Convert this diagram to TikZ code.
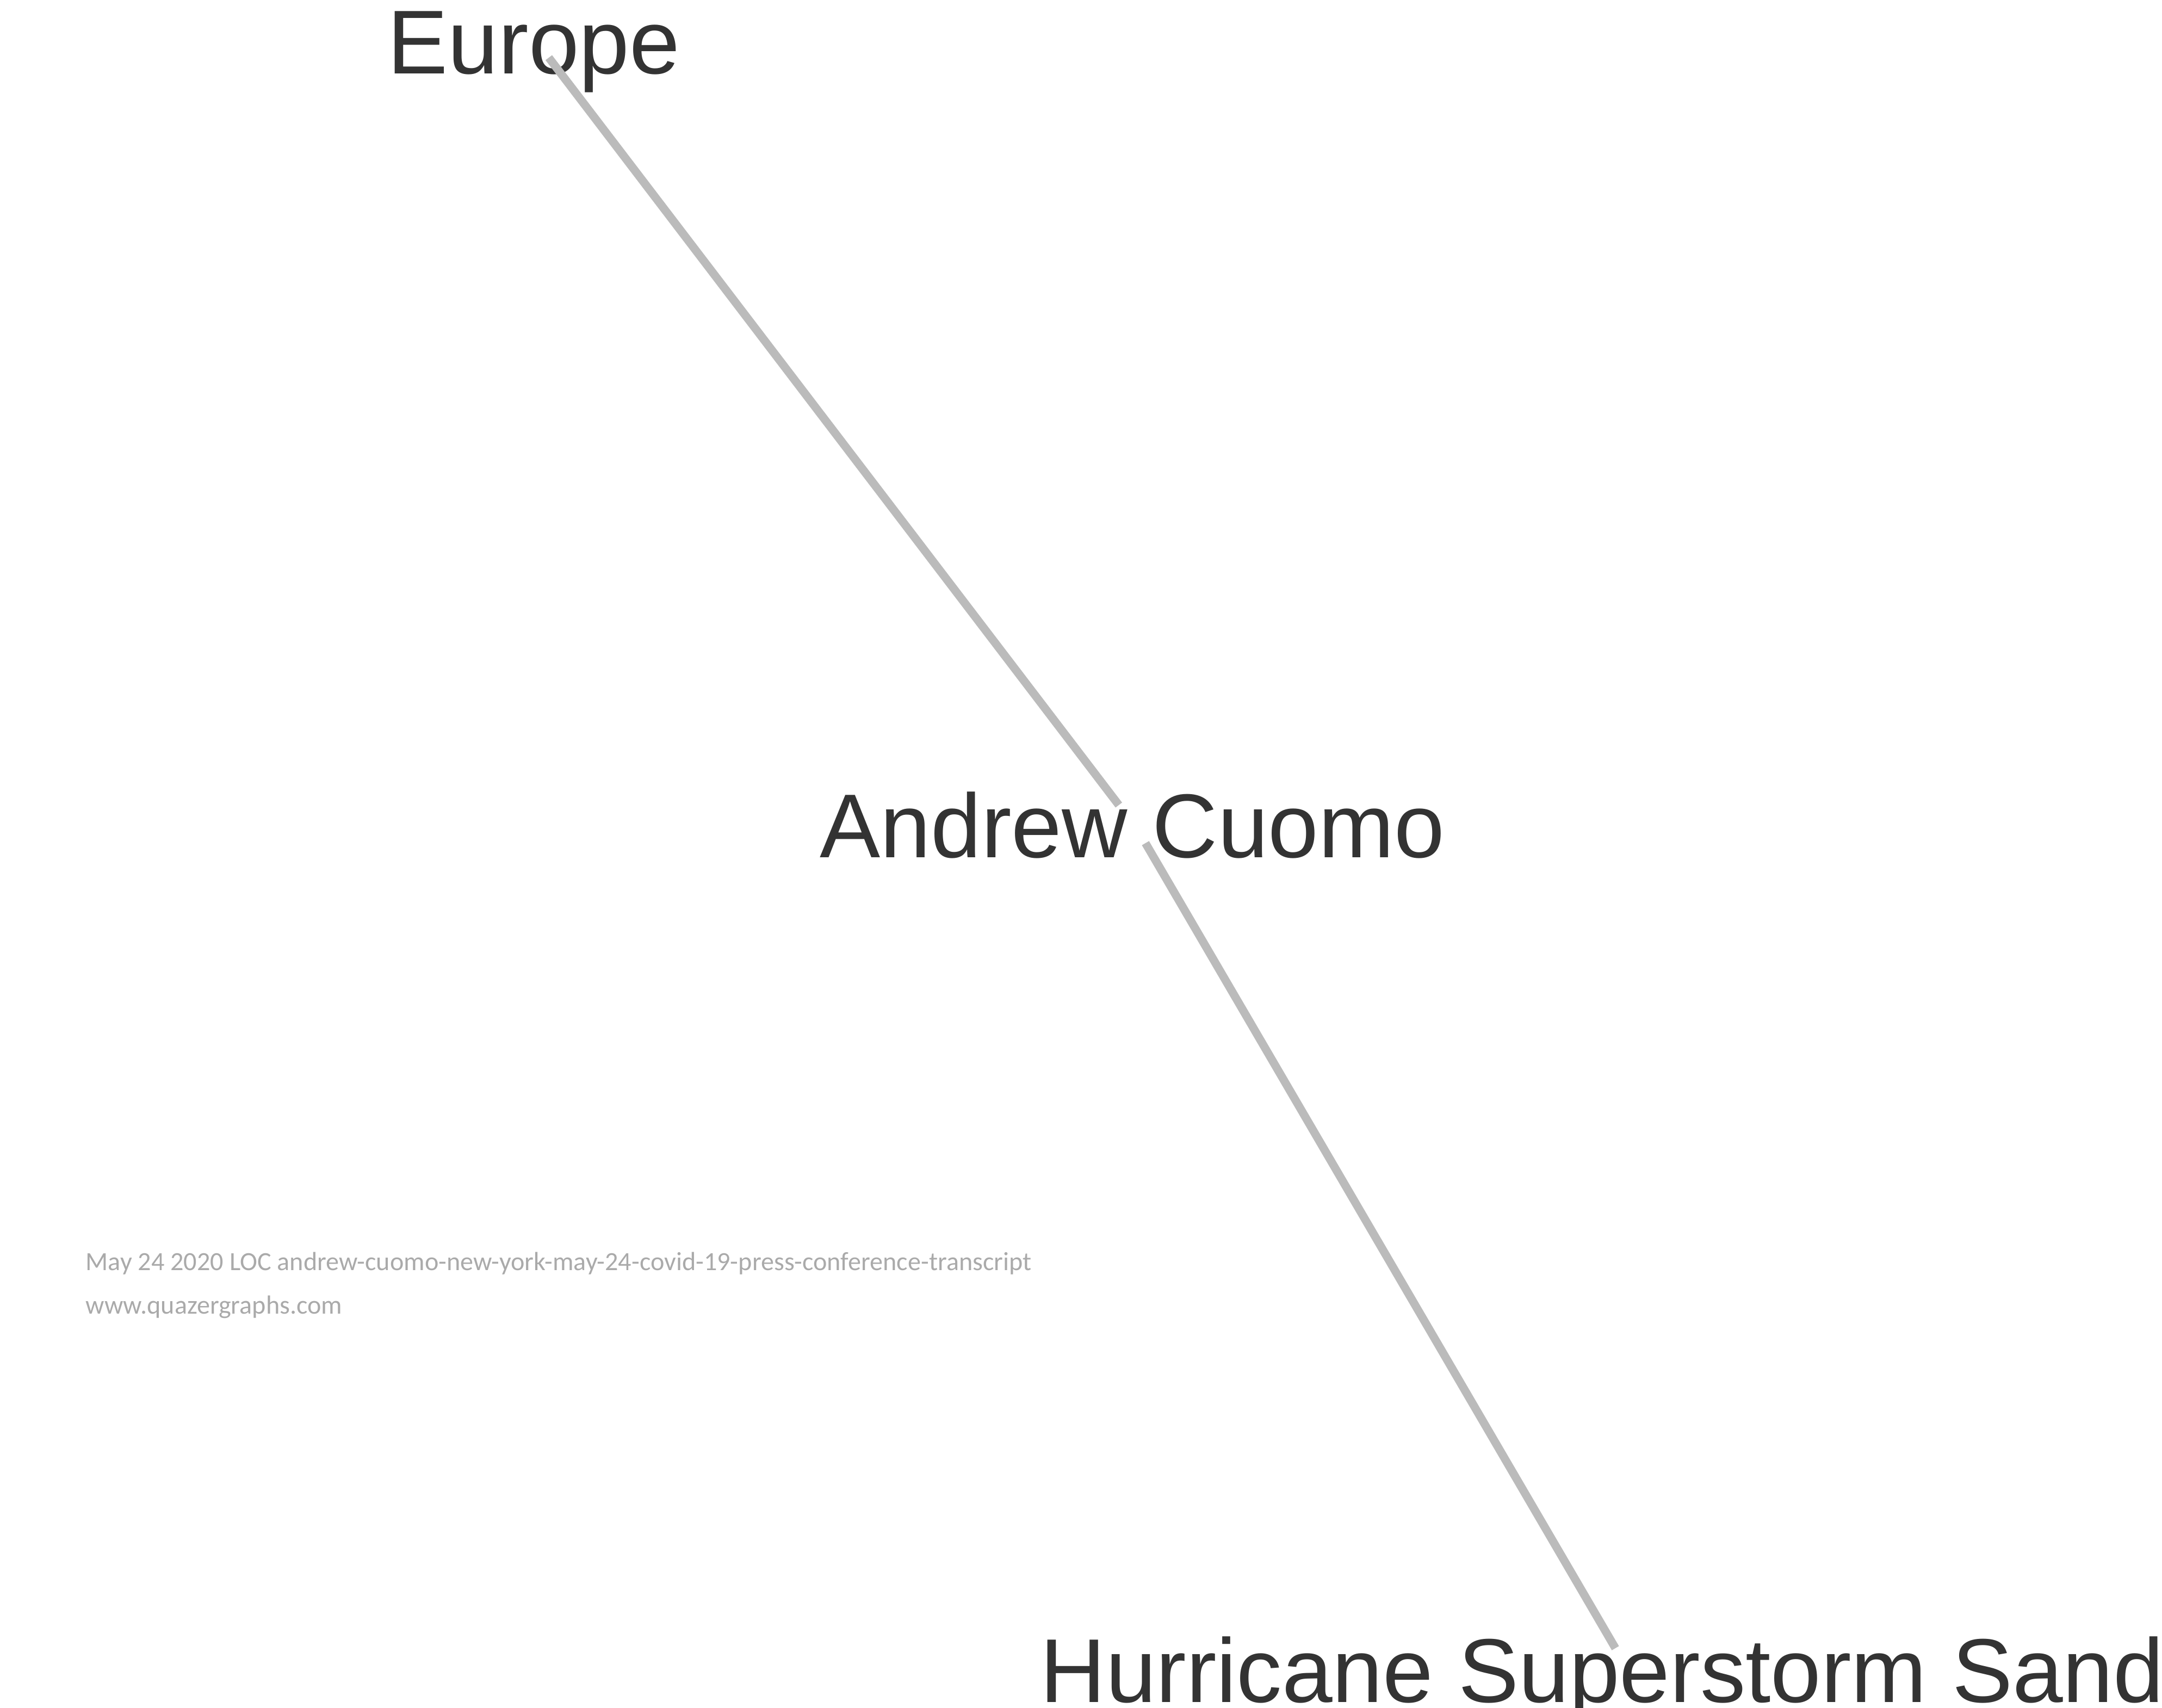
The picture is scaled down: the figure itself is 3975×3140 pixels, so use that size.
\documentclass[tikz,border=0pt]{standalone}
\usepackage{fontspec}
\setmainfont{Liberation Sans}
\newfontfamily\notefont{Carlito}
\definecolor{labelgray}{HTML}{333333}
\definecolor{edgegray}{HTML}{BBBBBB}
\definecolor{notegray}{HTML}{AAAAAA}
\begin{document}
\begin{tikzpicture}[x=0.01cm,y=-0.01cm,
  entity/.style={inner sep=0pt, anchor=base west, text=labelgray, font=\fontsize{47.4pt}{57pt}\selectfont},
  note/.style={inner sep=0pt, anchor=base west, text=notegray, font=\notefont\fontsize{13.7pt}{16pt}\selectfont},
  link/.style={draw=edgegray, line width=4.3pt}]
\useasboundingbox (0,0) rectangle (3975,3140);
\clip (0,0) rectangle (3975,3140);
\node[entity] (europe) at (712,136) {Europe};
\node[entity] (cuomo) at (1507,1576) {Andrew Cuomo};
\node[entity] (sandy) at (1912,3129) {Hurricane Superstorm Sandy};
\coordinate (e1) at (1009,106);
\coordinate (c1) at (2057,1480);
\coordinate (c2) at (2106,1550);
\coordinate (s1) at (2970,3030);
\draw[link] (e1) -- (c1);
\draw[link] (c2) -- (s1);
\node[note] (src) at (157,2335) {May 24 2020 LOC andrew-cuomo-new-york-may-24-covid-19-press-conference-transcript};
\node[note] (web) at (157,2415) {www.quazergraphs.com};
\end{tikzpicture}
\end{document}
